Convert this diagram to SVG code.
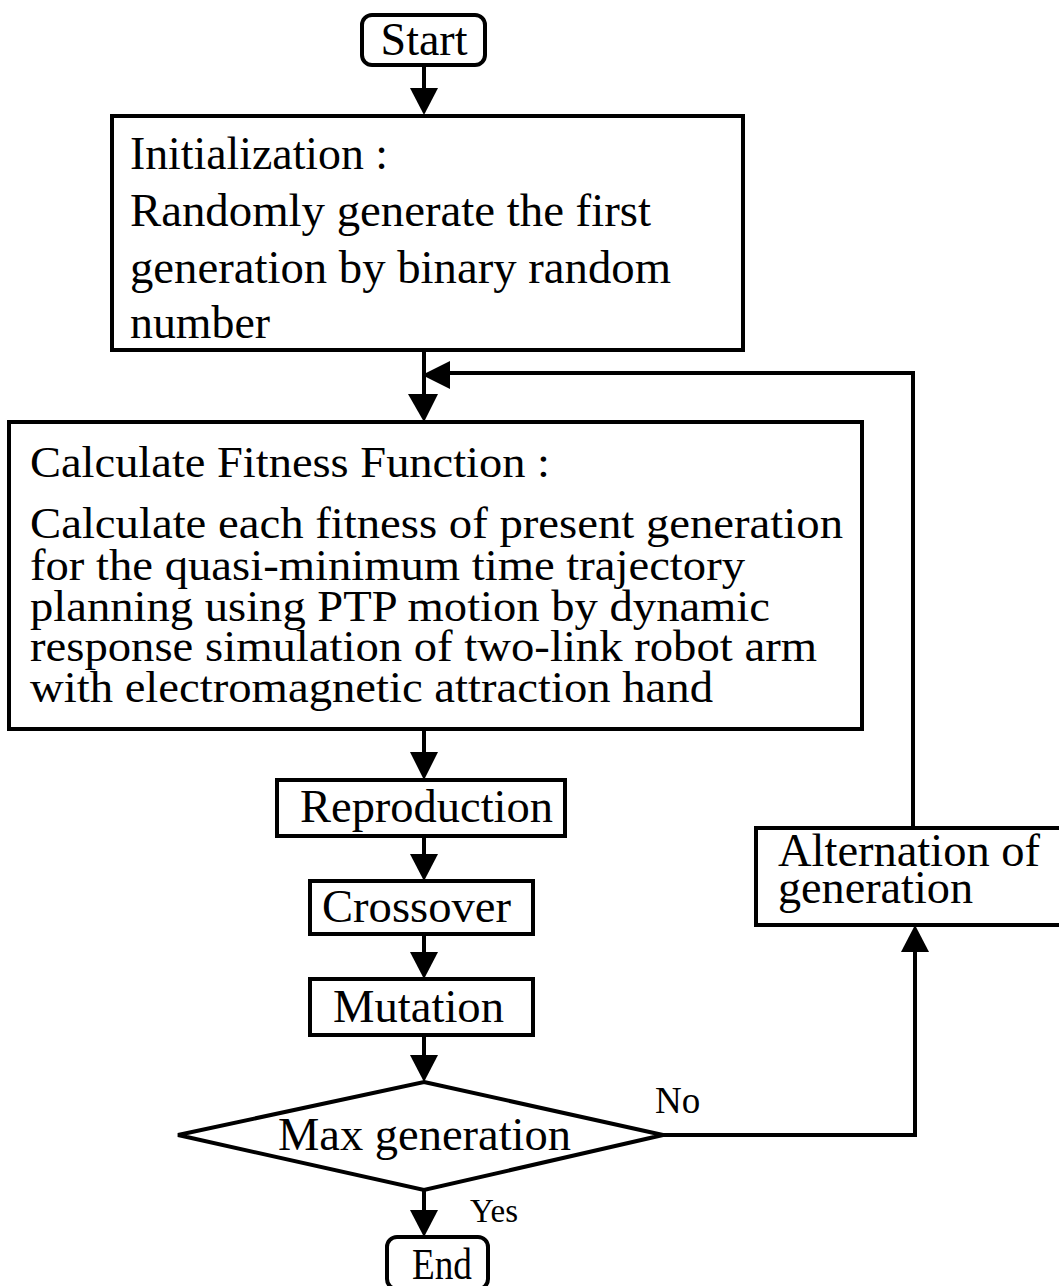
<svg xmlns="http://www.w3.org/2000/svg" width="1059" height="1286" viewBox="0 0 1059 1286">
<style>
.box{fill:#fff;stroke:#000;stroke-width:4}
.ln{fill:none;stroke:#000;stroke-width:4}
.ah{fill:#000;stroke:none}
text{font-family:"Liberation Serif","Times New Roman",serif;fill:#000}
.t{font-size:46px}
.c{font-size:45px}
</style>
<rect width="1059" height="1286" fill="#fff"/>
<g id="connectors">
<line class="ln" x1="424" y1="66" x2="424" y2="90"/>
<polygon class="ah" points="410,88 438,88 424,115"/>
<line class="ln" x1="424" y1="350" x2="424" y2="397"/>
<polygon class="ah" points="408,394 438,394 424,422"/>
<polyline class="ln" points="448,373 913,373 913,828"/>
<polygon class="ah" points="422,375 450,361 450,389"/>
<line class="ln" x1="424" y1="730" x2="424" y2="755"/>
<polygon class="ah" points="410,752 438,752 424,780"/>
<line class="ln" x1="424" y1="836" x2="424" y2="857"/>
<polygon class="ah" points="410,854 438,854 424,881"/>
<line class="ln" x1="424" y1="934" x2="424" y2="955"/>
<polygon class="ah" points="410,952 438,952 424,979"/>
<line class="ln" x1="424" y1="1035" x2="424" y2="1058"/>
<polygon class="ah" points="410,1055 438,1055 424,1082"/>
<line class="ln" x1="424" y1="1190" x2="424" y2="1213"/>
<polygon class="ah" points="410,1210 438,1210 424,1237"/>
<polyline class="ln" points="663,1135 915,1135 915,948"/>
<polygon class="ah" points="901,952 929,952 915,925"/>
<text x="655" y="1113" font-size="37">No</text>
<text x="470" y="1222" font-size="33">Yes</text>
</g>
<g id="start">
<rect class="box" x="362" y="15" width="123" height="50" rx="10"/>
<text class="t" x="424" y="55" text-anchor="middle">Start</text>
</g>
<g id="init">
<rect class="box" x="112" y="116" width="631" height="234"/>
<text class="t" x="130" y="169" textLength="258" lengthAdjust="spacingAndGlyphs">Initialization :</text>
<text class="t" x="130" y="226" textLength="521" lengthAdjust="spacingAndGlyphs">Randomly generate the first</text>
<text class="t" x="130" y="283" textLength="541" lengthAdjust="spacingAndGlyphs">generation by binary random</text>
<text class="t" x="130" y="338" textLength="140" lengthAdjust="spacingAndGlyphs">number</text>
</g>
<g id="fitness">
<rect class="box" x="9" y="422" width="853" height="307"/>
<text class="c" x="30" y="477" textLength="520" lengthAdjust="spacingAndGlyphs">Calculate Fitness Function :</text>
<text class="c" x="30" y="538" textLength="813" lengthAdjust="spacingAndGlyphs">Calculate each fitness of present generation</text>
<text class="c" x="30" y="580" textLength="715" lengthAdjust="spacingAndGlyphs">for the quasi-minimum time trajectory</text>
<text class="c" x="30" y="621" textLength="740" lengthAdjust="spacingAndGlyphs">planning using PTP motion by dynamic</text>
<text class="c" x="30" y="661" textLength="787" lengthAdjust="spacingAndGlyphs">response simulation of two-link robot arm</text>
<text class="c" x="30" y="702" textLength="683" lengthAdjust="spacingAndGlyphs">with electromagnetic attraction hand</text>
</g>
<g id="reproduction">
<rect class="box" x="277" y="780" width="288" height="56"/>
<text class="t" x="300" y="822" textLength="253" lengthAdjust="spacingAndGlyphs">Reproduction</text>
</g>
<g id="crossover">
<rect class="box" x="310" y="881" width="223" height="53"/>
<text class="t" x="322" y="922" textLength="189" lengthAdjust="spacingAndGlyphs">Crossover</text>
</g>
<g id="mutation">
<rect class="box" x="310" y="979" width="223" height="56"/>
<text class="t" x="333" y="1022" textLength="171" lengthAdjust="spacingAndGlyphs">Mutation</text>
</g>
<g id="decision">
<polygon class="box" points="424,1082 663,1135 424,1190 178,1135"/>
<text class="t" x="278" y="1150" textLength="293" lengthAdjust="spacingAndGlyphs">Max generation</text>
</g>
<g id="alternation">
<rect class="box" x="756" y="828" width="310" height="97"/>
<text class="t" x="778" y="866" textLength="262" lengthAdjust="spacingAndGlyphs">Alternation of</text>
<text class="t" x="778" y="903" textLength="195" lengthAdjust="spacingAndGlyphs">generation</text>
</g>
<g id="end">
<rect class="box" x="387" y="1237" width="101" height="52" rx="10"/>
<text x="412" y="1279" font-size="44" textLength="60" lengthAdjust="spacingAndGlyphs">End</text>
</g>
</svg>
